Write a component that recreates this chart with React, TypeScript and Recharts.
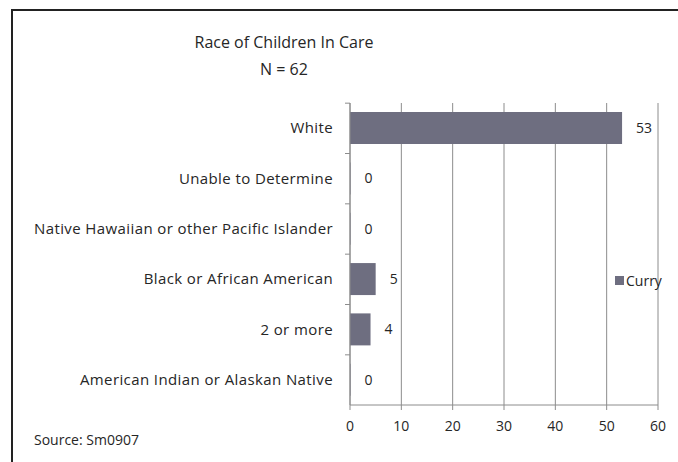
import { BarChart, Bar, XAxis, YAxis, CartesianGrid, Legend, LabelList } from 'recharts'

const races = [
  'White',
  'Unable to Determine',
  'Native Hawaiian or other Pacific Islander',
  'Black or African American',
  '2 or more',
  'American Indian or Alaskan Native',
]
const curry = [53, 0, 0, 5, 4, 0]
const xTicks = [0, 10, 20, 30, 40, 50, 60]

const data = races.map((race, i) => ({ race, curry: curry[i] }))

const FONT = '"Open Sans", "DejaVu Sans", sans-serif'
const BAR = '#6e6e80'
const GRID = '#8c8c8c'
const INK = '#262626'

// category label plus Excel-style tick mark on the band boundary above it
function RaceTick(props: any) {
  const { x, y, payload } = props
  return (
    <g>
      <line x1={x + 12} x2={x + 17} y1={y - 25} y2={y - 25} stroke={GRID} />
      <text x={x} y={y} dy={5} textAnchor="end" fill={INK} fontSize={15} letterSpacing={0.4} fontFamily={FONT}>
        {payload.value}
      </text>
    </g>
  )
}

function CurryLegend() {
  return (
    <div style={{ display: 'flex', alignItems: 'center', fontFamily: FONT, fontSize: 14, color: INK }}>
      <span style={{ width: 9, height: 9, background: BAR, display: 'inline-block', marginRight: 2 }} />
      Curry
    </div>
  )
}

export default function App() {
  return (
    <div style={{ position: 'absolute', left: 0, top: 0, width: 678, height: 462, background: '#fff', overflow: 'hidden' }}>
      <div
        style={{
          position: 'absolute',
          left: 11,
          top: 9,
          width: 700,
          height: 500,
          borderLeft: '2px solid #222',
          borderTop: '2px solid #222',
        }}
      />
      <div style={{ position: 'absolute', left: 0, width: 568, top: 31, textAlign: 'center', fontFamily: FONT, fontSize: 16, color: INK }}>
        Race of Children In Care
      </div>
      <div style={{ position: 'absolute', left: 0, width: 568, top: 58, textAlign: 'center', fontFamily: FONT, fontSize: 16, color: INK }}>
        N = 62
      </div>
      <div style={{ position: 'absolute', left: 34, top: 430, fontFamily: FONT, fontSize: 14, color: INK }}>
        Source: Sm0907
      </div>
      <div style={{ position: 'absolute', left: 0, top: 0 }}>
        <BarChart
          width={678}
          height={462}
          data={data}
          layout="vertical"
          margin={{ top: 103, right: 20, bottom: 0, left: 0 }}
          barCategoryGap="18%"
        >
          <CartesianGrid horizontal={false} vertical stroke={GRID} />
          <XAxis
            type="number"
            domain={[0, 60]}
            ticks={xTicks}
            height={57}
            stroke={GRID}
            tickSize={5}
            tickMargin={11}
            tick={{ fill: INK, fontSize: 14, fontFamily: FONT }}
          />
          <YAxis
            type="category"
            dataKey="race"
            width={350}
            stroke={GRID}
            tickLine={false}
            tickSize={0}
            tickMargin={17}
            tick={<RaceTick />}
            interval={0}
          />
          <Legend
            layout="horizontal"
            verticalAlign="middle"
            align="center"
            content={<CurryLegend />}
            wrapperStyle={{ left: 615, top: 271, width: 'auto' }}
          />
          <Bar dataKey="curry" name="Curry" fill={BAR} minPointSize={0.5} isAnimationActive={false}>
            <LabelList dataKey="curry" position="right" offset={14} fill={INK} fontSize={14} fontFamily={FONT} />
          </Bar>
        </BarChart>
      </div>
    </div>
  )
}
